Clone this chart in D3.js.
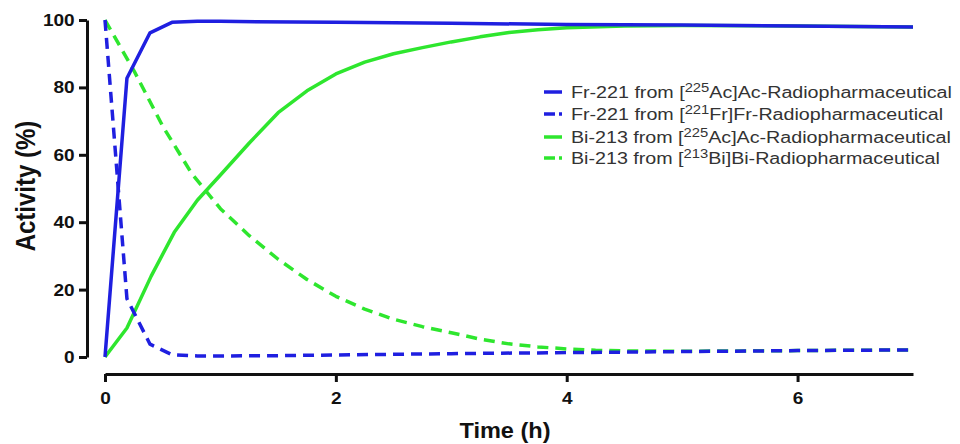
<!DOCTYPE html>
<html lang="en">
  <head>
    <meta charset="utf-8">
    <title>Activity over time</title>
    <style>
      body { margin: 0; background: #fff; }
      svg { display: block; font-family: "Liberation Sans", Arial, sans-serif; }
    </style>
  </head>
  <body>
    <script src="https://cdn.jsdelivr.net/npm/d3@7"></script>
    <script>
      // time (h) / activity (%)
      const frAcTime  = [0, 0.19, 0.39, 0.58, 0.8, 1, 2, 3, 4, 5, 6, 7];
      const frAcValue = [0, 82.7, 96.2, 99.3, 99.6, 99.6, 99.3, 99.0, 98.7, 98.5, 98.2, 97.9];

      const frFrTime  = [0, 0.19, 0.39, 0.58, 0.8, 1, 1.5, 2, 3, 4, 5, 6, 7];
      const frFrValue = [100, 17.3, 3.8, 0.7, 0.3, 0.3, 0.4, 0.6, 1.0, 1.3, 1.6, 1.9, 2.1];

      const biAcTime  = [0, 0.19, 0.4, 0.6, 0.8, 1, 1.25, 1.5, 1.75, 2, 2.25, 2.5, 2.75, 3, 3.25, 3.5, 3.75, 4, 4.5, 5, 6, 7];
      const biAcValue = [0, 8.6, 24, 37, 46.5, 54, 63.5, 72.5, 79, 84, 87.5, 90, 91.8, 93.5, 95, 96.3, 97.1, 97.7, 98.2, 98.4, 98.2, 97.9];

      const biBiTime  = [0, 0.25, 0.5, 0.75, 1, 1.25, 1.5, 1.75, 2, 2.25, 2.5, 2.75, 3, 3.25, 3.5, 3.75, 4, 4.25, 4.5, 5, 6, 7];
      const biBiValue = [100, 85, 68.5, 54.5, 44, 36, 29, 23, 18, 14.2, 11.2, 9, 7.2, 5.3, 3.9, 3.0, 2.4, 2.0, 1.8, 1.7, 1.9, 2.1];

      const xTicks = [0, 2, 4, 6];
      const yTicks = [0, 20, 40, 60, 80, 100];

      // legend labels: [before superscript, superscript, after]
      const legendLabels = [
        ["Fr-221 from [", "225", "Ac]Ac-Radiopharmaceutical"],
        ["Fr-221 from [", "221", "Fr]Fr-Radiopharmaceutical"],
        ["Bi-213 from [", "225", "Ac]Ac-Radiopharmaceutical"],
        ["Bi-213 from [", "213", "Bi]Bi-Radiopharmaceutical"]
      ];

      const blue = "#1f1fe0";
      const green = "#2ee62e";

      const series = [
        { t: biBiTime, v: biBiValue, color: green, dash: "11,7" },
        { t: biAcTime, v: biAcValue, color: green, dash: null },
        { t: frFrTime, v: frFrValue, color: blue, dash: "11,7" },
        { t: frAcTime, v: frAcValue, color: blue, dash: null }
      ];

      const w = 960, h = 444;
      const stretch = 1.12;

      const x = d3.scaleLinear().domain([0, 7]).range([105, 913]);
      const y = d3.scaleLinear().domain([0, 100]).range([357, 20]);

      const svg = d3.select("body").append("svg")
        .attr("width", w)
        .attr("height", h);

      // axes
      const yAxis = svg.append("g")
        .attr("transform", "translate(87,0)")
        .call(d3.axisLeft(y).tickValues(yTicks).tickFormat(d3.format("d"))
          .tickSize(8).tickPadding(3).tickSizeOuter(0));

      const xAxis = svg.append("g")
        .attr("transform", "translate(0,374)")
        .call(d3.axisBottom(x).tickValues(xTicks).tickFormat(d3.format("d"))
          .tickSize(8).tickPadding(10).tickSizeOuter(0));

      [xAxis, yAxis].forEach(a => {
        a.selectAll("path, line").attr("stroke", "#111").attr("stroke-width", 3);
        a.selectAll("text")
          .attr("fill", "#111")
          .attr("font-size", 17)
          .attr("font-weight", "bold")
          .attr("font-family", "'Liberation Sans', Arial, sans-serif")
          .attr("transform", `scale(${stretch},1)`);
      });

      // axis titles
      svg.append("text")
        .attr("transform", `translate(25,186) scale(1.15,1) rotate(-90)`)
        .attr("text-anchor", "middle")
        .attr("dominant-baseline", "central")
        .attr("font-size", 24)
        .attr("font-weight", "bold")
        .attr("fill", "#111")
        .text("Activity (%)");

      svg.append("text")
        .attr("transform", `translate(505,438) scale(1.07,1)`)
        .attr("text-anchor", "middle")
        .attr("font-size", 22)
        .attr("font-weight", "bold")
        .attr("fill", "#111")
        .text("Time (h)");

      // lines
      const line = d3.line()
        .x(d => x(d[0]))
        .y(d => y(d[1]));

      series.forEach(s => {
        const pts = s.t.map((t, i) => [t, s.v[i]]);
        svg.append("path")
          .datum(pts)
          .attr("fill", "none")
          .attr("stroke", s.color)
          .attr("stroke-width", 3.5)
          .attr("stroke-linejoin", "round")
          .attr("stroke-dasharray", s.dash)
          .attr("d", line);
      });

      // legend
      const legendY = [92, 114, 137, 158];
      const legendOrder = [3, 2, 1, 0];   // series index for each legend row
      const legend = svg.append("g");

      legendLabels.forEach((lab, i) => {
        const s = series[legendOrder[i]];
        const row = legend.append("g").attr("transform", `translate(0,${legendY[i]})`);
        row.append("line")
          .attr("x1", 544).attr("x2", 562)
          .attr("y1", 0).attr("y2", 0)
          .attr("stroke", s.color)
          .attr("stroke-width", 3.5)
          .attr("stroke-dasharray", s.dash ? "11,4,3,30" : null);

        const txt = row.append("text")
          .attr("transform", "translate(571,6) scale(1.23,1)")
          .attr("font-size", 16)
          .attr("fill", "#333");
        txt.append("tspan").text(lab[0]);
        txt.append("tspan").attr("font-size", 12).attr("dy", -6).text(lab[1]);
        txt.append("tspan").attr("dy", 6).text(lab[2]);
      });
    </script>
  </body>
</html>
